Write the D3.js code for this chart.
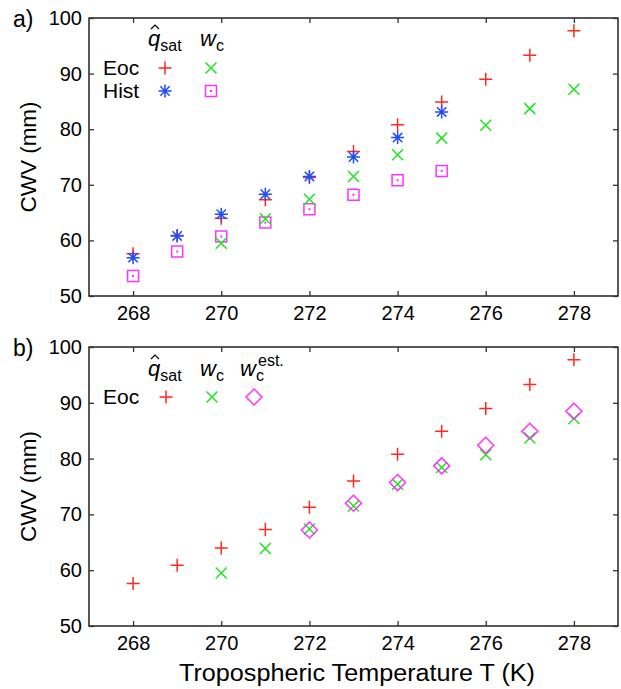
<!DOCTYPE html>
<html>
<head>
<meta charset="utf-8">
<script src="https://cdn.jsdelivr.net/npm/d3@7"></script>
<style>
  body { margin: 0; background: #fff; }
  svg { display: block; }
  text { font-family: "Liberation Sans", Arial, Helvetica, sans-serif; fill: #000; }
</style>
</head>
<body>
<svg id="chart" width="621" height="689"></svg>
<script>
// Column water vapour versus tropospheric temperature
const temps      = [268, 269, 270, 271, 272, 273, 274, 275, 276, 277, 278];
const eocQsat    = [57.6, 60.9, 64.0, 67.3, 71.3, 76.0, 80.8, 84.9, 89.0, 93.3, 97.7];
const eocWcT     = [270, 271, 272, 273, 274, 275, 276, 277, 278];
const eocWc      = [59.5, 63.9, 67.4, 71.5, 75.4, 78.4, 80.7, 83.7, 87.2];
const histT      = [268, 269, 270, 271, 272, 273, 274, 275];
const histQsat   = [56.9, 60.8, 64.7, 68.3, 71.5, 75.0, 78.5, 83.1];
const histWc     = [53.6, 58.0, 60.7, 63.2, 65.6, 68.2, 70.8, 72.5];
const estT       = [272, 273, 274, 275, 276, 277, 278];
const eocWcEst   = [67.2, 72.0, 75.7, 78.7, 82.4, 84.9, 88.5];
const xTicks     = [268, 270, 272, 274, 276, 278];
const yTicks     = [50, 60, 70, 80, 90, 100];

const RED = "#ff2a1f", GREEN = "#1ee61e", BLUE = "#1f4cff", MAGENTA = "#ff33ff";

const svg = d3.select("#chart");
const left = 89, right = 618;
const x = d3.scaleLinear().domain([267, 279]).range([left, right]);

// marker path builders (centered at 0,0)
const plusPath  = r => `M${-r},0H${r}M0,${-r}V${r}`;
const crossPath = r => `M${-r},${-r}L${r},${r}M${-r},${r}L${r},${-r}`;
const starPath  = r => plusPath(r) + crossPath(r * 0.72);
const squarePath = r => `M${-r},${-r}H${r}V${r}H${-r}Z`;
const diamondPath = r => `M0,${-r}L${r},0L0,${r}L${-r},0Z`;

function drawMarker(g, kind, cx, cy) {
  const t = `translate(${cx},${cy})`;
  if (kind === "plus") {
    g.append("path").attr("transform", t).attr("d", plusPath(6.5))
      .attr("stroke", RED).attr("stroke-width", 1.5).attr("fill", "none");
  } else if (kind === "cross") {
    g.append("path").attr("transform", t).attr("d", crossPath(5.5))
      .attr("stroke", GREEN).attr("stroke-width", 1.5).attr("fill", "none");
  } else if (kind === "star") {
    g.append("path").attr("transform", t).attr("d", starPath(6.5))
      .attr("stroke", BLUE).attr("stroke-width", 1.5).attr("fill", "none");
  } else if (kind === "square") {
    g.append("path").attr("transform", t).attr("d", squarePath(5.5))
      .attr("stroke", MAGENTA).attr("stroke-width", 1.5).attr("fill", "none");
    g.append("rect").attr("x", cx - 1).attr("y", cy - 1).attr("width", 2).attr("height", 2)
      .attr("fill", MAGENTA);
  } else if (kind === "diamond") {
    g.append("path").attr("transform", t).attr("d", diamondPath(8))
      .attr("stroke", MAGENTA).attr("stroke-width", 1.5).attr("fill", "none");
  }
}

function series(g, y, xs, ys, kind) {
  xs.forEach((t, i) => drawMarker(g, kind, x(t), y(ys[i])));
}

// q̂_sat header: italic q with a drawn hat and upright subscript
function qsatLabel(g, tx, ty) {
  const t = g.append("text").attr("x", tx).attr("y", ty).style("font-size", "22px");
  t.append("tspan").style("font-style", "italic").text("q");
  t.append("tspan").attr("dy", 5).style("font-size", "16px").text("sat");
  g.append("path")
    .attr("d", `M${tx + 3},${ty - 17}L${tx + 7},${ty - 21}L${tx + 11},${ty - 17}`)
    .attr("fill", "none").attr("stroke", "#000").attr("stroke-width", 1.2);
}
function wcLabel(g, tx, ty, sup) {
  const t = g.append("text").attr("x", tx).attr("y", ty).style("font-size", "22px");
  t.append("tspan").style("font-style", "italic").text("w");
  t.append("tspan").attr("dy", 5).style("font-size", "16px").text("c");
  if (sup) {
    g.append("text").attr("x", tx + 18).attr("y", ty - 10).style("font-size", "16px").text(sup);
  }
}

function panel(top, bottom, letter, drawContent) {
  const y = d3.scaleLinear().domain([50, 100]).range([bottom, top]);
  const g = svg.append("g");

  // frame
  g.append("rect").attr("x", left).attr("y", top)
    .attr("width", right - left).attr("height", bottom - top)
    .attr("fill", "none").attr("stroke", "#000").attr("stroke-width", 1.3);

  // axes with inward ticks
  const xb = d3.axisBottom(x).tickValues(xTicks).tickSize(-5).tickPadding(10).tickFormat(d3.format("d"));
  const xt = d3.axisTop(x).tickValues(xTicks).tickSize(-5).tickFormat("");
  const yl = d3.axisLeft(y).tickValues(yTicks).tickSize(-5).tickPadding(7).tickFormat(d3.format("d"));
  const yr = d3.axisRight(y).tickValues(yTicks).tickSize(-5).tickFormat("");

  [[xb, `translate(0,${bottom})`], [xt, `translate(0,${top})`],
   [yl, `translate(${left},0)`], [yr, `translate(${right},0)`]].forEach(([ax, tr]) => {
    const a = g.append("g").attr("transform", tr).call(ax);
    a.select(".domain").remove();
    a.selectAll(".tick line").attr("stroke", "#333").attr("stroke-width", 1.3);
    a.selectAll("text").style("font-size", "20px")
      .style("font-family", '"Liberation Sans", Arial, sans-serif').attr("fill", "#000");
  });

  g.append("text").attr("x", 13).attr("y", top + 9).style("font-size", "23px").text(letter);

  g.append("text")
    .attr("transform", `translate(36,${(top + bottom) / 2}) rotate(-90)`)
    .attr("text-anchor", "middle").style("font-size", "22.5px").text("CWV (mm)");

  drawContent(g, y);
}

// a) end-of-century and historical
panel(18, 296, "a)", (g, y) => {
  qsatLabel(g, 148, 46);
  wcLabel(g, 200, 46);
  g.append("text").attr("x", 103).attr("y", 75).style("font-size", "21px").text("Eoc");
  g.append("text").attr("x", 103).attr("y", 98).style("font-size", "21px").text("Hist");
  drawMarker(g, "plus", 165, 68);
  drawMarker(g, "cross", 211, 68);
  drawMarker(g, "star", 165, 91);
  drawMarker(g, "square", 211, 91);

  series(g, y, histT, histWc, "square");
  series(g, y, eocWcT, eocWc, "cross");
  series(g, y, temps, eocQsat, "plus");
  series(g, y, histT, histQsat, "star");
});

// b) end-of-century with estimated w_c
panel(347, 626, "b)", (g, y) => {
  qsatLabel(g, 148, 376);
  wcLabel(g, 200, 376);
  wcLabel(g, 240, 376, "est.");
  g.append("text").attr("x", 103).attr("y", 404).style("font-size", "21px").text("Eoc");
  drawMarker(g, "plus", 166, 397);
  drawMarker(g, "cross", 212, 397);
  drawMarker(g, "diamond", 254, 397);

  series(g, y, temps, eocQsat, "plus");
  series(g, y, eocWcT, eocWc, "cross");
  series(g, y, estT, eocWcEst, "diamond");
});

// shared x-axis title
svg.append("text").attr("x", 357).attr("y", 681).attr("text-anchor", "middle")
  .attr("textLength", 356).attr("lengthAdjust", "spacingAndGlyphs")
  .style("font-size", "23px").text("Tropospheric Temperature T (K)");
</script>
</body>
</html>
